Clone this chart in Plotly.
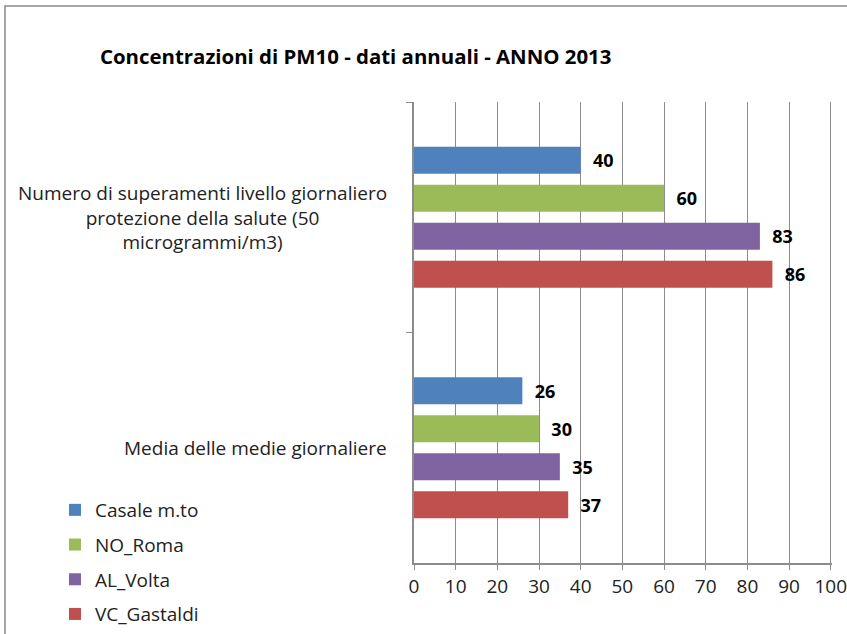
import plotly.graph_objects as go

categories = [
    "Numero di superamenti livello giornaliero<br>protezione della salute (50<br>microgrammi/m3)",
    "Media delle medie giornaliere",
]
series_names = ["Casale m.to", "NO_Roma", "AL_Volta", "VC_Gastaldi"]
series_values = [
    [40, 26],
    [60, 30],
    [83, 35],
    [86, 37],
]
colors = ["#4F81BD", "#9BBB59", "#8064A2", "#C0504D"]
x_ticks = [0, 10, 20, 30, 40, 50, 60, 70, 80, 90, 100]

FONT = "Open Sans"
FS = 19
W, H = 847, 634
L, R, T, B = 414, 15, 102, 71
pw = W - L - R
ph = H - T - B

fig = go.Figure()
for i, (name, vals, col) in enumerate(zip(series_names, series_values, colors)):
    fig.add_trace(go.Bar(
        y=categories, x=vals, name=name, orientation="h",
        marker=dict(color=col, line=dict(width=0)),
        text=vals, texttemplate="\u00a0\u00a0%{x}", textposition="outside",
        textfont=dict(family=FONT, size=18, color="black", weight="bold"),
        cliponaxis=False, constraintext="none",
        legendgroup=name,
    ))

for c in categories:
    fig.add_annotation(
        x=0, xref="paper", y=c, yref="y", text=c, showarrow=False,
        xanchor="right", yanchor="middle", align="center", xshift=-25,
        font=dict(family=FONT, size=FS, color="#222"),
    )

def px_x(p):
    return (p - L) / pw

def px_y(p):
    return (H - B - p) / ph

fig.add_shape(type="rect", xref="paper", yref="paper",
              x0=px_x(5), x1=px_x(870), y0=px_y(660), y1=px_y(6),
              line=dict(color="#8a8a8a", width=1.5), fillcolor="rgba(0,0,0,0)", layer="below")

fig.update_layout(
    width=W, height=H,
    margin=dict(l=L, r=R, t=T, b=B, autoexpand=False),
    paper_bgcolor="white", plot_bgcolor="white",
    barmode="group", bargap=0.34, bargroupgap=0.29,
    title=dict(text="<b>Concentrazioni di PM10 - dati annuali - ANNO 2013</b>",
               x=100 / W, xanchor="left", xref="container",
               y=1 - 57 / H, yanchor="middle", yref="container",
               font=dict(family=FONT, size=20.4, color="black")),
    font=dict(family=FONT, size=FS, color="#222"),
    showlegend=True,
    legend=dict(x=px_x(55), y=px_y(491), xanchor="left", yanchor="top",
                traceorder="grouped", tracegroupgap=7,
                font=dict(family=FONT, size=FS, color="#222"),
                bgcolor="rgba(0,0,0,0)"),
    xaxis=dict(range=[0, 100.3], tickvals=x_ticks, showgrid=True,
               gridcolor="#8c8c8c", gridwidth=1, zeroline=False,
               showline=True, linecolor="#8c8c8c", linewidth=1.5,
               ticks="outside", ticklen=5, tickcolor="#8c8c8c",
               ticklabeloverflow="allow",
               tickfont=dict(family=FONT, size=FS, color="#222"), fixedrange=True),
    yaxis=dict(type="category", categoryorder="array", categoryarray=categories,
               autorange="reversed", showticklabels=False,
               showline=True, linecolor="#8c8c8c", linewidth=1.5,
               ticks="outside", ticklen=6, tickcolor="#8c8c8c", tickson="boundaries",
               showgrid=False, zeroline=False, fixedrange=True),
)

fig.write_html("out.html", config={"displayModeBar": False},
               post_script="document.body.style.margin='0';document.body.style.overflow='hidden';")
